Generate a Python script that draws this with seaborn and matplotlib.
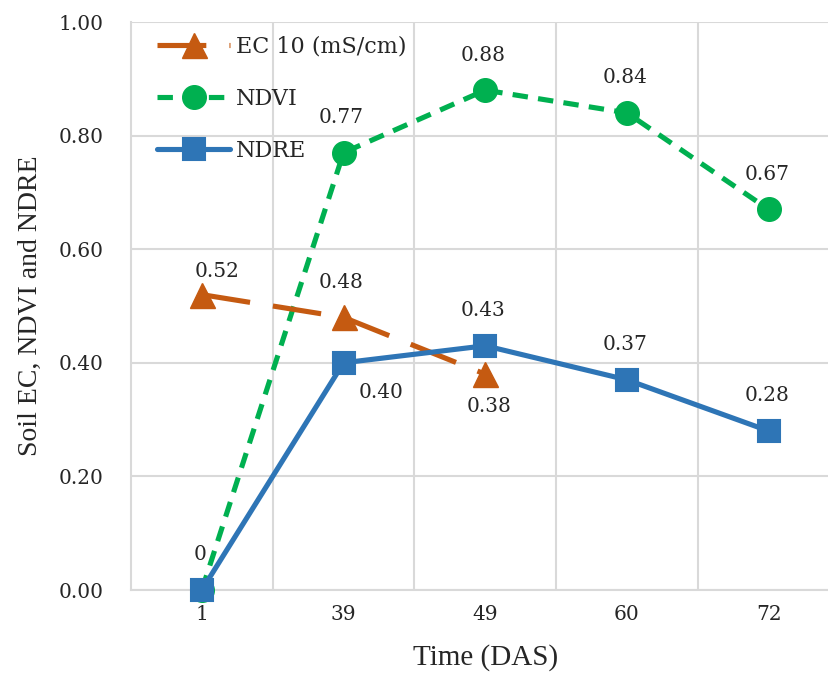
import matplotlib
matplotlib.use("Agg")
import matplotlib.pyplot as plt
import seaborn as sns
import pandas as pd

# ---- data ----
categories = ["1", "39", "49", "60", "72"]
ec_values = [0.52, 0.48, 0.38]
ndvi_values = [0.0, 0.77, 0.88, 0.84, 0.67]
ndre_values = [0.0, 0.40, 0.43, 0.37, 0.28]
ec_labels = ["0.52", "0.48", "0.38"]
ndvi_labels = [None, "0.77", "0.88", "0.84", "0.67"]
ndre_labels = ["0", "0.40", "0.43", "0.37", "0.28"]
y_ticks = [0.0, 0.2, 0.4, 0.6, 0.8, 1.0]

# ---- style ----
sns.set_theme(style="white")
plt.rcParams["font.family"] = ["DejaVu Serif"]
TXT = "#262626"
GRID = "#D9D9D9"
C_EC = "#C55A11"
C_NDVI = "#00B050"
C_NDRE = "#2E75B6"

fig = plt.figure(figsize=(8.29, 6.75), dpi=100)
W, H = 829, 675
left, right, top, bottom = 131, 839.5, 22, 590
ax = fig.add_axes([left / W, (H - bottom) / H, (right - left) / W, (bottom - top) / H])

ndvi_df = pd.DataFrame({"t": categories, "v": ndvi_values})
ec_df = pd.DataFrame({"t": categories[:len(ec_values)], "v": ec_values})
ndre_df = pd.DataFrame({"t": categories, "v": ndre_values})

LW = 3.7
sns.lineplot(data=ndvi_df, x="t", y="v", ax=ax, color=C_NDVI, marker="o",
             markersize=17, markeredgecolor=C_NDVI, markeredgewidth=1,
             linewidth=LW, linestyle=(0, (3.0, 2.0)), label="NDVI",
             clip_on=False, zorder=3)
sns.lineplot(data=ec_df, x="t", y="v", ax=ax, color=C_EC, marker="^",
             markersize=18, markeredgecolor=C_EC, markeredgewidth=1,
             linewidth=LW, linestyle=(0, (9.5, 4.5)), label="EC 10 (mS/cm)",
             clip_on=False, zorder=4)
sns.lineplot(data=ndre_df, x="t", y="v", ax=ax, color=C_NDRE, marker="s",
             markersize=16.5, markeredgecolor=C_NDRE, markeredgewidth=1.5,
             linewidth=LW, label="NDRE", clip_on=False, zorder=5)

ax.set_xlim(-0.5, 4.5)
ax.set_ylim(0, 1.0)
ax.set_yticks(y_ticks)
ax.set_yticklabels([f"{t:.2f}" for t in y_ticks])

# grid
ax.set_xticks([0.5, 1.5, 2.5, 3.5], minor=True)
ax.grid(True, which="major", axis="y", color=GRID, linewidth=1.5, zorder=0)
ax.grid(True, which="minor", axis="x", color=GRID, linewidth=1.5, zorder=0)
ax.set_axisbelow(True)
for s in ["top", "right"]:
    ax.spines[s].set_visible(False)
for s in ["left", "bottom"]:
    ax.spines[s].set_color(GRID)
    ax.spines[s].set_linewidth(1.5)
ax.tick_params(axis="both", which="both", length=0, colors=TXT, labelsize=14.5)
ax.tick_params(axis="y", pad=20)
ax.tick_params(axis="x", pad=11)

# data labels
def annotate(values, labels, offsets):
    for i, (v, lab) in enumerate(zip(values, labels)):
        if lab is None:
            continue
        dx, dy = offsets.get(i, (-2, -35))
        ax.annotate(lab, (i, v), xytext=(dx, -dy), textcoords="offset pixels",
                    ha="center", va="center", fontsize=14.5, color=TXT,
                    annotation_clip=False, zorder=6)

annotate(ec_values, ec_labels, {0: (15, -23), 2: (4, 32)})
annotate(ndvi_values, ndvi_labels, {})
annotate(ndre_values, ndre_labels, {1: (38, 30)})

# axis labels
ax.set_xlabel("Time (DAS)", fontsize=21, color=TXT, family=["Liberation Serif"])
ax.set_ylabel("Soil EC, NDVI and NDRE", fontsize=20, color=TXT, family=["Liberation Serif"])
ax.xaxis.label.set_va("center")
ax.xaxis.set_label_coords(0.5, (bottom - 658) / (bottom - top))
ax.yaxis.label.set_va("center")
ax.yaxis.set_label_coords((30 - left) / (right - left), 0.5)

# legend
handles, labels = ax.get_legend_handles_labels()
order = [labels.index("EC 10 (mS/cm)"), labels.index("NDVI"), labels.index("NDRE")]
leg = ax.legend([handles[i] for i in order], [labels[i] for i in order],
                loc="upper left", bbox_to_anchor=(157 / W, 1 - 36 / H),
                bbox_transform=fig.transFigure, frameon=False, fontsize=16,
                handlelength=3.3, handletextpad=0.25, labelspacing=1.35,
                borderaxespad=0, borderpad=0)
for t in leg.get_texts():
    t.set_color(TXT)

fig.savefig("out.png", dpi=100)
